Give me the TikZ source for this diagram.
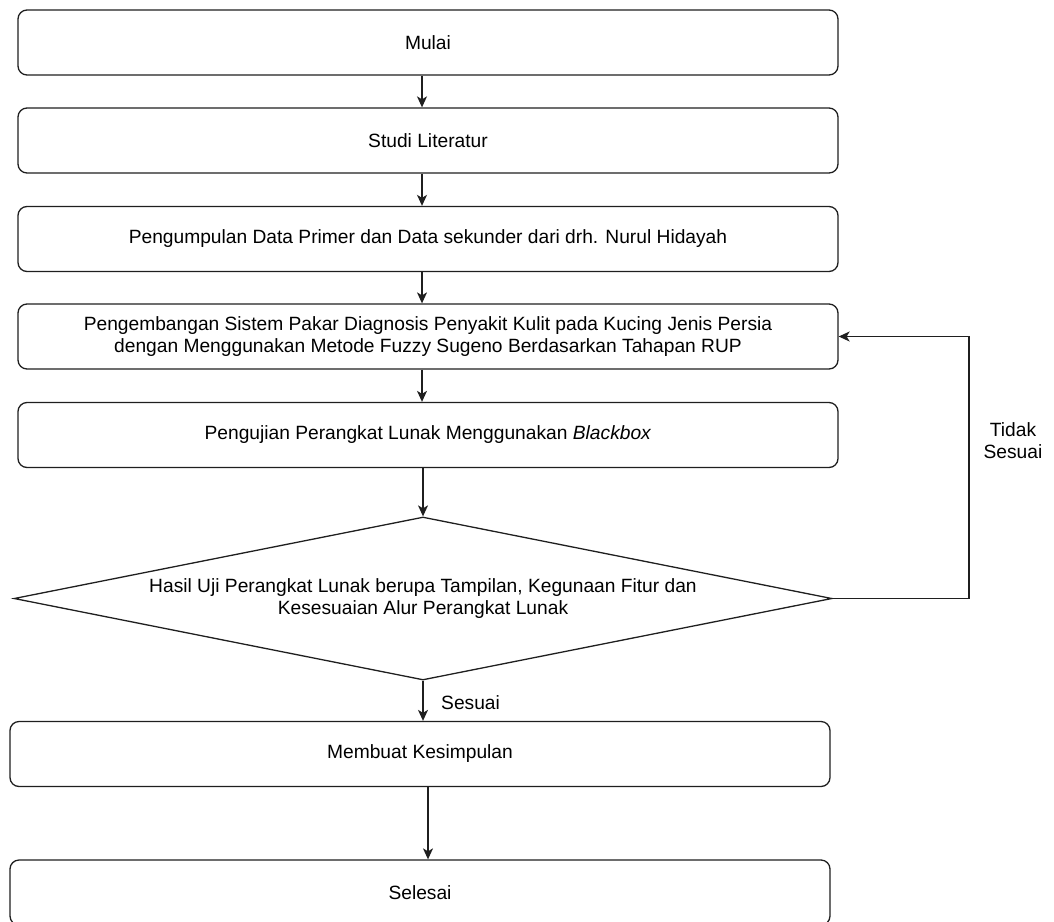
\documentclass[tikz,border=0pt]{standalone}
\usepackage{fontspec}
\setmainfont{Liberation Sans}
\usetikzlibrary{shapes.geometric,arrows.meta}
\definecolor{garis}{rgb}{0.12, 0.12, 0.12}

\begin{document}
\begin{tikzpicture}[x=1pt, y=-1pt,
    kotak/.style={draw=garis, line width=1.3pt, rounded corners=9pt, minimum width=820pt, minimum height=65pt, inner sep=0pt, align=center, font=\fontsize{19.2}{22}\selectfont},
    keputusan/.style={draw=garis, line width=1.3pt, diamond, aspect=5.02, minimum width=818pt, minimum height=163pt, inner sep=0pt, align=center, font=\fontsize{19.2}{22}\selectfont},
    label/.style={align=center, inner sep=0pt, font=\fontsize{19.2}{22}\selectfont},
    panah/.style={-{Stealth[length=11pt, width=10pt, inset=3pt]}, draw=garis, line width=1.3pt}]
      \useasboundingbox (0, 0) rectangle (1054, 921);

      \node[kotak] (mulai) at (428, 42.5) {Mulai};
      \node[kotak] (studi) at (428, 140.5) {Studi Literatur};
      \node[kotak] (kumpul) at (428, 239) {Pengumpulan Data Primer dan Data sekunder dari drh. Nurul Hidayah};
      \node[kotak] (kembang) at (428, 336.5) {Pengembangan Sistem Pakar Diagnosis Penyakit Kulit pada Kucing Jenis Persia\\dengan Menggunakan Metode Fuzzy Sugeno Berdasarkan Tahapan RUP};
      \node[kotak] (uji) at (428, 435) {Pengujian Perangkat Lunak Menggunakan \textit{Blackbox}};
      \node[keputusan] (hasil) at (423, 598.5) {Hasil Uji Perangkat Lunak berupa Tampilan, Kegunaan Fitur dan\\Kesesuaian Alur Perangkat Lunak};
      \node[kotak] (simpul) at (420, 754) {Membuat Kesimpulan};
      \node[kotak] (selesai) at (420, 892.5) {Selesai};

      \node[label] (tidak) at (1013, 441) {Tidak\\Sesuai};
      \node[label, anchor=west] (sesuai) at (441, 703) {Sesuai};
      \coordinate (belok) at (969, 598.5);

      \draw[panah] ([xshift=-6pt]mulai.south) -- ([xshift=-6pt]studi.north);
      \draw[panah] ([xshift=-6pt]studi.south) -- ([xshift=-6pt]kumpul.north);
      \draw[panah] ([xshift=-6pt]kumpul.south) -- ([xshift=-6pt]kembang.north);
      \draw[panah] ([xshift=-6pt]kembang.south) -- ([xshift=-6pt]uji.north);
      \draw[panah] ([xshift=-5pt]uji.south) -- (hasil.north);
      \draw[panah] (hasil.south) -- (hasil.south |- simpul.north);
      \draw[panah] ([xshift=8pt]simpul.south) -- ([xshift=8pt]selesai.north);

      \draw[panah] (hasil.east) -- (belok) |- (kembang.east);

    \end{tikzpicture}
\end{document}
